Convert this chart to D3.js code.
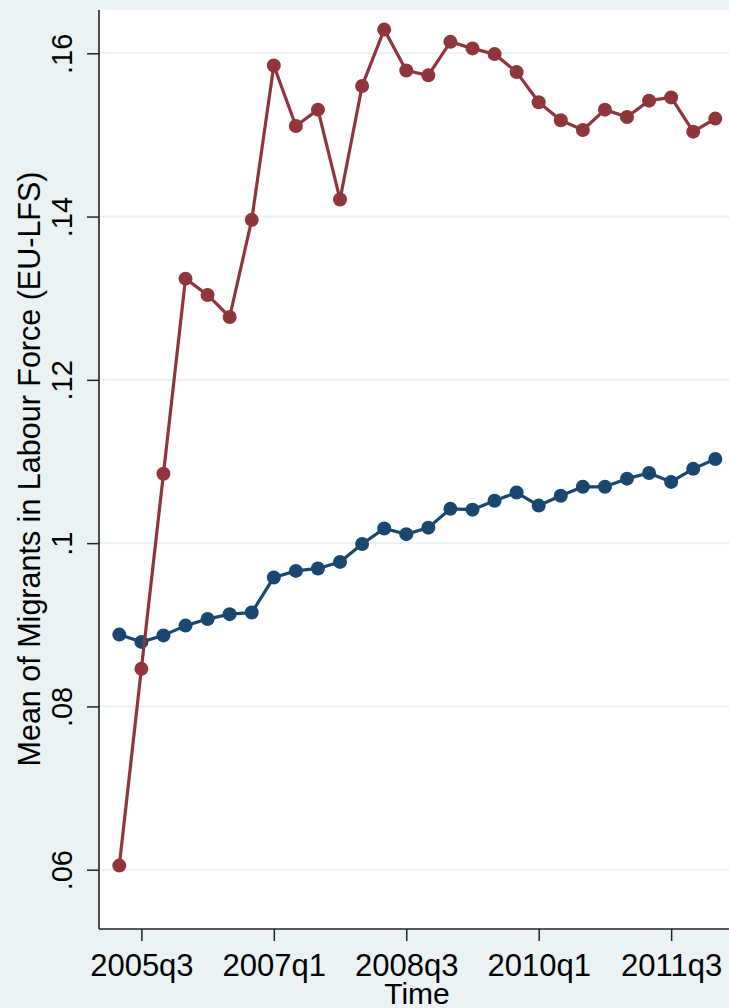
<!DOCTYPE html>
<html>
<head>
<meta charset="utf-8">
<script src="https://cdn.jsdelivr.net/npm/d3@7"></script>
<style>
  html, body { margin: 0; padding: 0; background: #eaf2f3; }
  svg { display: block; }
  text { font-family: "Liberation Sans", Arial, sans-serif; fill: #000; }
</style>
</head>
<body>
<svg id="chart" width="729" height="1008"></svg>
<script>
// Quarterly periods, 2005q2 through 2012q1
const quarters = [
  "2005q2","2005q3","2005q4","2006q1","2006q2","2006q3","2006q4",
  "2007q1","2007q2","2007q3","2007q4","2008q1","2008q2","2008q3",
  "2008q4","2009q1","2009q2","2009q3","2009q4","2010q1","2010q2",
  "2010q3","2010q4","2011q1","2011q2","2011q3","2011q4","2012q1"
];

// Mean share of migrants in the labour force, first group (navy)
const groupA = [
  0.0888, 0.0879, 0.0887, 0.0899, 0.0907, 0.0913, 0.0915,
  0.0958, 0.0966, 0.0969, 0.0977, 0.0999, 0.1018, 0.1011,
  0.1019, 0.1042, 0.1041, 0.1052, 0.1062, 0.1046, 0.1058,
  0.1069, 0.1069, 0.1079, 0.1086, 0.1075, 0.1091, 0.1103
];

// Mean share of migrants in the labour force, second group (cranberry)
const groupB = [
  0.0605, 0.0846, 0.1085, 0.1324, 0.1304, 0.1277, 0.1396,
  0.1585, 0.1511, 0.1531, 0.1421, 0.1560, 0.1629, 0.1579,
  0.1573, 0.1614, 0.1606, 0.1599, 0.1577, 0.1540, 0.1518,
  0.1506, 0.1531, 0.1522, 0.1542, 0.1546, 0.1504, 0.1520
];

const yTickValues = [0.06, 0.08, 0.10, 0.12, 0.14, 0.16];
const yTickLabels = [".06", ".08", ".1", ".12", ".14", ".16"];
const xTickLabels = ["2005q3", "2007q1", "2008q3", "2010q1", "2011q3"];

const yTitle = "Mean of Migrants in Labour Force (EU-LFS)";
const xTitle = "Time";

const W = 729, H = 1008;
const plot = { left: 99, top: 10, right: 729, bottom: 929 };

const svg = d3.select("#chart");

// background panels
svg.append("rect").attr("width", W).attr("height", H).attr("fill", "#eaf2f3");
svg.append("rect")
  .attr("x", plot.left).attr("y", plot.top)
  .attr("width", plot.right - plot.left).attr("height", plot.bottom - plot.top)
  .attr("fill", "#ffffff");

const x = d3.scaleLinear().domain([0, quarters.length - 1]).range([119.3, 715.3]);
const y = d3.scaleLinear().domain([0.06, 0.16]).range([869.7, 53.3]);

// horizontal grid lines
svg.append("g").selectAll("line")
  .data(yTickValues)
  .join("line")
  .attr("x1", plot.left).attr("x2", plot.right)
  .attr("y1", d => y(d)).attr("y2", d => y(d))
  .attr("stroke", "#eaf2f3").attr("stroke-width", 2);

// y axis
const yAxis = d3.axisLeft(y)
  .tickValues(yTickValues)
  .tickSize(12)
  .tickFormat((d, i) => yTickLabels[i]);
const gy = svg.append("g")
  .attr("transform", `translate(${plot.left},0)`)
  .call(yAxis);
gy.select(".domain").remove();
gy.selectAll(".tick line").attr("stroke", "#222").attr("stroke-width", 1.5);
gy.selectAll(".tick text")
  .attr("x", null).attr("dy", null)
  .attr("font-size", 29)
  .attr("text-anchor", "middle")
  .attr("transform", "translate(-27,0) rotate(-90)");
gy.append("line")
  .attr("x1", 0).attr("x2", 0)
  .attr("y1", plot.top).attr("y2", plot.bottom)
  .attr("stroke", "#222").attr("stroke-width", 1.6);

// x axis
const xTickIdx = xTickLabels.map(l => quarters.indexOf(l));
const xAxis = d3.axisBottom(x)
  .tickValues(xTickIdx)
  .tickSize(12)
  .tickFormat(d => quarters[d]);
const gx = svg.append("g")
  .attr("transform", `translate(0,${plot.bottom})`)
  .call(xAxis);
gx.select(".domain").remove();
gx.selectAll(".tick line").attr("stroke", "#222").attr("stroke-width", 1.5);
gx.selectAll(".tick text")
  .attr("y", 47).attr("dy", null)
  .attr("font-size", 31)
  .attr("text-anchor", "middle");
gx.append("line")
  .attr("x1", plot.left).attr("x2", plot.right)
  .attr("y1", 0).attr("y2", 0)
  .attr("stroke", "#222").attr("stroke-width", 1.6);

// axis titles
svg.append("text")
  .attr("transform", `translate(40,469) rotate(-90)`)
  .attr("text-anchor", "middle")
  .attr("font-size", 30.5)
  .text(yTitle);
svg.append("text")
  .attr("x", 417).attr("y", 1004)
  .attr("text-anchor", "middle")
  .attr("font-size", 30)
  .text(xTitle);

// connected series
const series = [
  { values: groupA, color: "#1a476f" },
  { values: groupB, color: "#90353b" }
];
const line = d3.line().x((d, i) => x(i)).y(d => y(d));

series.forEach(s => {
  const g = svg.append("g");
  g.append("path")
    .datum(s.values)
    .attr("d", line)
    .attr("fill", "none")
    .attr("stroke", s.color)
    .attr("stroke-width", 3.2)
    .attr("stroke-linejoin", "round");
  g.selectAll("circle")
    .data(s.values)
    .join("circle")
    .attr("cx", (d, i) => x(i))
    .attr("cy", d => y(d))
    .attr("r", 7)
    .attr("fill", s.color);
});
</script>
</body>
</html>
